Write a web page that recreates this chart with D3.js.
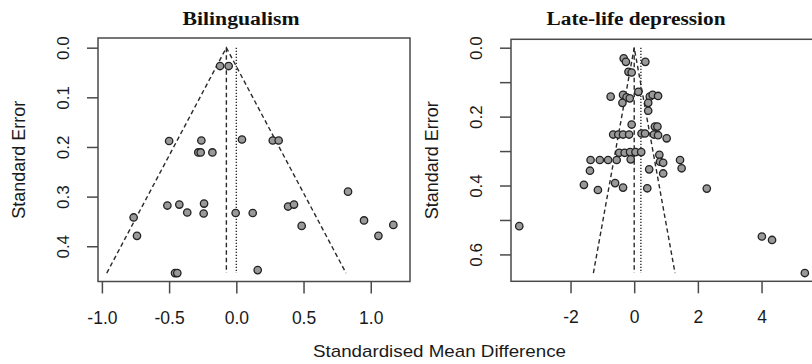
<!DOCTYPE html>
<html>
<head>
<meta charset="utf-8">
<script src="https://cdn.jsdelivr.net/npm/d3@7"></script>
<style>
  html, body { margin: 0; padding: 0; background: #fff; }
  svg { display: block; }
</style>
</head>
<body>
<svg id="chart" width="812" height="364"></svg>
<script>
// ---------- DATA ----------
const titles = ["Bilingualism", "Late-life depression"];
const xAxisTitle = "Standardised Mean Difference";
const yAxisTitle = "Standard Error";

// Bilingualism: standardised mean difference (x) and standard error (se)
const bilingSMD = [-0.121, -0.057, -0.50, -0.26, 0.042, 0.271, 0.315, -0.283, -0.265, -0.178,
  0.831, -0.513, -0.424, -0.365, -0.240, -0.243, -0.005, 0.122, 0.385, 0.429,
  0.486, -0.764, -0.739, 0.950, 1.057, 1.168, -0.456, -0.439, 0.159];
const bilingSE = [0.037, 0.037, 0.188, 0.187, 0.185, 0.187, 0.187, 0.211, 0.211, 0.211,
  0.290, 0.318, 0.316, 0.332, 0.314, 0.334, 0.333, 0.333, 0.320, 0.316,
  0.359, 0.342, 0.379, 0.348, 0.379, 0.357, 0.454, 0.454, 0.448];
const bilingEstimate = -0.074;
const bilingRef = 0.0;
const bilingSEmax = 0.454;

// Late-life depression
const depSMD = [-0.33, -0.26, 0.35, -0.18, -0.08,
  -0.74, -0.35, -0.24, -0.14, -0.37, 0.13, 0.49, 0.58, 0.75, 0.44,
  0.44, -0.08,
  -0.66, -0.50, -0.35, -0.16, 0.23, 0.34, 0.65, 0.73, 0.62, 0.75, 1.02,
  -0.47, -0.30, -0.13, 0.04, 0.22, 0.79,
  -1.37, -1.08, -0.82, -0.55, -0.11, 0.81, 0.91, 1.44, 1.49,
  -1.39, 0.47, 0.91,
  -1.58, -1.14, -0.60, -0.35, 0.41, 2.28,
  -3.61, 4.01, 4.33, 5.36];
const depSE = [0.031, 0.041, 0.041, 0.070, 0.072,
  0.142, 0.137, 0.144, 0.147, 0.160, 0.128, 0.142, 0.137, 0.140, 0.160,
  0.183, 0.223,
  0.252, 0.252, 0.252, 0.252, 0.249, 0.249, 0.229, 0.229, 0.252, 0.254, 0.263,
  0.305, 0.305, 0.303, 0.303, 0.303, 0.311,
  0.326, 0.326, 0.326, 0.326, 0.324, 0.331, 0.334, 0.326, 0.350,
  0.357, 0.353, 0.365,
  0.398, 0.413, 0.393, 0.406, 0.408, 0.409,
  0.518, 0.548, 0.558, 0.654];
const depEstimate = 0.0;
const depRef = 0.21;
const depSEmax = 0.654;

const bilingXTicks = [-1.0, -0.5, 0.0, 0.5, 1.0];
const bilingXTickLabels = ["-1.0", "-0.5", "0.0", "0.5", "1.0"];
const bilingYTicks = [0.0, 0.1, 0.2, 0.3, 0.4];
const bilingYTickLabels = ["0.0", "0.1", "0.2", "0.3", "0.4"];
const depXTicks = [-2, 0, 2, 4];
const depXTickLabels = ["-2", "0", "2", "4"];
const depYTicks = [0.0, 0.1, 0.2, 0.3, 0.4, 0.5, 0.6];
const depYTickLabels = ["0.0", "", "0.2", "", "0.4", "", "0.6"];

// ---------- DRAWING ----------
const svg = d3.select("#chart");
const ink = "#1a1a1a";
const frame = "#4a4a4a";

function panel(cfg) {
  const x = d3.scaleLinear().domain(cfg.xDomain).range([cfg.left, cfg.right]);
  const y = d3.scaleLinear().domain(cfg.yDomain).range([cfg.top, cfg.bottom]);
  const g = svg.append("g");

  // box
  g.append("rect")
    .attr("x", cfg.left).attr("y", cfg.top)
    .attr("width", cfg.right - cfg.left).attr("height", cfg.bottom - cfg.top)
    .attr("fill", "none").attr("stroke", frame).attr("stroke-width", 1.5);

  // x axis
  const xAxis = d3.axisBottom(x).tickValues(cfg.xTicks)
    .tickFormat((d, i) => cfg.xTickLabels[i]).tickSize(12).tickPadding(17);
  const gx = g.append("g").attr("transform", `translate(0,${cfg.bottom})`).call(xAxis);
  gx.select(".domain").remove();
  gx.selectAll(".tick line").attr("stroke", frame).attr("stroke-width", 1.5);
  gx.selectAll(".tick text").attr("fill", ink).attr("dy", null)
    .attr("dominant-baseline", "auto").attr("y", 42)
    .style("font-family", "'Liberation Sans', Arial, sans-serif").style("font-size", "17.5px");

  // y axis
  const yAxis = d3.axisLeft(y).tickValues(cfg.yTicks)
    .tickFormat((d, i) => cfg.yTickLabels[i]).tickSize(11).tickPadding(0);
  const gy = g.append("g").attr("transform", `translate(${cfg.left},0)`).call(yAxis);
  gy.select(".domain").remove();
  gy.selectAll(".tick line").attr("stroke", frame).attr("stroke-width", 1.5);
  gy.selectAll(".tick text")
    .attr("x", 0).attr("dy", null)
    .attr("text-anchor", "middle")
    .attr("dominant-baseline", "central")
    .attr("transform", "translate(-34.5,0) rotate(-90)")
    .attr("fill", ink)
    .style("font-family", "'Liberation Sans', Arial, sans-serif").style("font-size", "17px");

  // funnel
  const est = cfg.estimate, sm = cfg.seMax;
  const lineStyle = sel => sel.attr("stroke", "#2a2a2a").attr("stroke-width", 1.4).attr("fill", "none");
  g.append("path")
    .attr("d", d3.line()([[x(est - 1.96 * sm), y(sm)], [x(est), y(0)], [x(est + 1.96 * sm), y(sm)]]))
    .call(lineStyle).attr("stroke-dasharray", "4.5,3");
  g.append("line")
    .attr("x1", x(est)).attr("x2", x(est)).attr("y1", y(0)).attr("y2", y(sm))
    .call(lineStyle).attr("stroke-dasharray", "4.5,3");
  g.append("line")
    .attr("x1", x(cfg.ref)).attr("x2", x(cfg.ref)).attr("y1", y(0)).attr("y2", y(sm))
    .call(lineStyle).attr("stroke-dasharray", "1.3,1.7");

  // points
  g.append("g").selectAll("circle")
    .data(cfg.smd.map((v, i) => [v, cfg.se[i]]))
    .join("circle")
    .attr("cx", d => x(d[0])).attr("cy", d => y(d[1]))
    .attr("r", 3.7)
    .attr("fill", "#999").attr("stroke", "#222").attr("stroke-width", 1.3);

  // title
  svg.append("text")
    .attr("x", cfg.titleX).attr("y", 25)
    .attr("text-anchor", "middle")
    .attr("textLength", cfg.titleLen).attr("lengthAdjust", "spacingAndGlyphs")
    .style("font-family", "'Liberation Serif', 'Times New Roman', serif")
    .style("font-weight", "bold").style("font-size", "18px")
    .attr("fill", "#111")
    .text(cfg.title);

  // y axis title
  svg.append("text")
    .attr("transform", `translate(${cfg.left - 79},${(cfg.top + cfg.bottom) / 2}) rotate(-90)`)
    .attr("text-anchor", "middle").attr("dominant-baseline", "central")
    .style("font-family", "'Liberation Sans', Arial, sans-serif").style("font-size", "18px")
    .attr("fill", ink)
    .text(yAxisTitle);
}

panel({
  title: titles[0], titleX: 241, titleLen: 117,
  left: 98, right: 410, top: 38, bottom: 281.5,
  xDomain: [-1.029, 1.292], yDomain: [-0.0195, 0.471],
  xTicks: bilingXTicks, xTickLabels: bilingXTickLabels,
  yTicks: bilingYTicks, yTickLabels: bilingYTickLabels,
  smd: bilingSMD, se: bilingSE,
  estimate: bilingEstimate, ref: bilingRef, seMax: bilingSEmax
});

panel({
  title: titles[1], titleX: 636, titleLen: 179,
  left: 511, right: 816.3, top: 39.3, bottom: 281.3,
  xDomain: [-3.87, 5.72], yDomain: [-0.0244, 0.678],
  xTicks: depXTicks, xTickLabels: depXTickLabels,
  yTicks: depYTicks, yTickLabels: depYTickLabels,
  smd: depSMD, se: depSE,
  estimate: depEstimate, ref: depRef, seMax: depSEmax
});

// shared x axis title
svg.append("text")
  .attr("x", 439.5).attr("y", 357)
  .attr("text-anchor", "middle")
  .style("font-family", "'Liberation Sans', Arial, sans-serif").style("font-size", "17px")
  .attr("textLength", 253).attr("lengthAdjust", "spacingAndGlyphs")
  .attr("fill", ink)
  .text(xAxisTitle);
</script>
</body>
</html>
